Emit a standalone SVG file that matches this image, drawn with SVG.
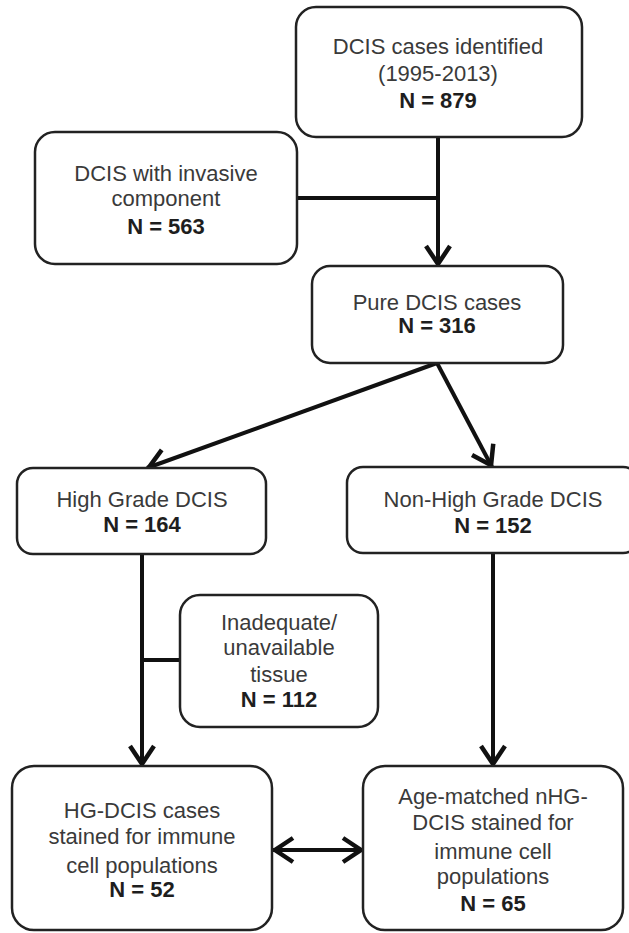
<svg xmlns="http://www.w3.org/2000/svg" width="629" height="933" viewBox="0 0 629 933">
<style>
.box{fill:#fff;stroke:#222;stroke-width:2.5}
.t{font-family:"Liberation Sans",Arial,sans-serif;font-size:22px;fill:#3a3a3a;text-anchor:middle}
.b{font-weight:bold;fill:#1e1e1e}
.c{fill:none;stroke:#111;stroke-width:4}
</style>
<defs>
<marker id="ah" markerUnits="userSpaceOnUse" markerWidth="34" markerHeight="34" viewBox="-28 -17 34 34" refX="0" refY="0" orient="auto-start-reverse">
<path d="M-20,-12 L-2,0 L-20,12" fill="none" stroke="#111" stroke-width="4.5"/>
</marker>
</defs>
<rect width="629" height="933" fill="#fff"/>
<g id="connectors">
<line class="c" x1="438" y1="137" x2="438" y2="266" marker-end="url(#ah)"/>
<line class="c" x1="297" y1="198" x2="438" y2="198"/>
<line class="c" x1="437" y1="363" x2="147" y2="468" marker-end="url(#ah)"/>
<line class="c" x1="437" y1="363" x2="492" y2="467" marker-end="url(#ah)"/>
<line class="c" x1="142" y1="554" x2="142" y2="766" marker-end="url(#ah)"/>
<line class="c" x1="142" y1="660" x2="180" y2="660"/>
<line class="c" x1="493" y1="553" x2="493" y2="766" marker-end="url(#ah)"/>
<line class="c" x1="273" y1="850" x2="363" y2="850" marker-start="url(#ah)" marker-end="url(#ah)"/>
</g>
<g id="n1">
<rect class="box" x="296" y="7" width="286" height="130" rx="20"/>
<text class="t" x="438" y="54">DCIS cases identified</text>
<text class="t" x="438" y="81">(1995-2013)</text>
<text class="t b" x="438" y="108">N = 879</text>
</g>
<g id="n2">
<rect class="box" x="35" y="132" width="262" height="132" rx="20"/>
<text class="t" x="166" y="181">DCIS with invasive</text>
<text class="t" x="166" y="206">component</text>
<text class="t b" x="166" y="234">N = 563</text>
</g>
<g id="n3">
<rect class="box" x="312" y="266" width="251" height="97" rx="18"/>
<text class="t" x="437" y="310">Pure DCIS cases</text>
<text class="t b" x="437" y="333">N = 316</text>
</g>
<g id="n4">
<rect class="box" x="17" y="468" width="249" height="86" rx="16"/>
<text class="t" x="142" y="507">High Grade DCIS</text>
<text class="t b" x="142" y="532">N = 164</text>
</g>
<g id="n5">
<rect class="box" x="347" y="467" width="292" height="86" rx="16"/>
<text class="t" x="493" y="507">Non-High Grade DCIS</text>
<text class="t b" x="493" y="533">N = 152</text>
</g>
<g id="n6">
<rect class="box" x="180" y="595" width="198" height="132" rx="20"/>
<text class="t" x="279" y="630">Inadequate/</text>
<text class="t" x="279" y="655">unavailable</text>
<text class="t" x="279" y="682">tissue</text>
<text class="t b" x="279" y="707">N = 112</text>
</g>
<g id="n7">
<rect class="box" x="12" y="766" width="260" height="164" rx="22"/>
<text class="t" x="142" y="818">HG-DCIS cases</text>
<text class="t" x="142" y="844">stained for immune</text>
<text class="t" x="142" y="873">cell populations</text>
<text class="t b" x="142" y="897">N = 52</text>
</g>
<g id="n8">
<rect class="box" x="363" y="766" width="260" height="164" rx="22"/>
<text class="t" x="493" y="804">Age-matched nHG-</text>
<text class="t" x="493" y="830">DCIS stained for</text>
<text class="t" x="493" y="859">immune cell</text>
<text class="t" x="493" y="884">populations</text>
<text class="t b" x="493" y="911">N = 65</text>
</g>
</svg>
